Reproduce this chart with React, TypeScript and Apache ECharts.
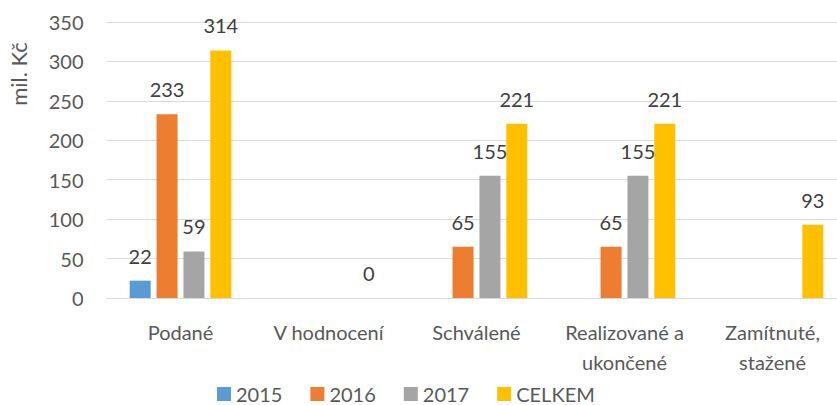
import React, { useEffect, useRef } from "react";
import * as echarts from "echarts";

const categories = ["Podané", "V hodnocení", "Schválené", "Realizované a\nukončené", "Zamítnuté,\nstažené"];
const seriesNames = ["2015", "2016", "2017", "CELKEM"];
const values2015: (number | null)[] = [22, null, null, null, null];
const values2016: (number | null)[] = [233, null, 65, 65, null];
const values2017: (number | null)[] = [59, null, 155, 155, null];
const valuesCelkem: (number | null)[] = [314, 0, 221, 221, 93];
const colors = ["#5B9BD5", "#ED7D31", "#A5A5A5", "#FFC000"];
const yTicks = { min: 0, max: 350, interval: 50 };
const yAxisTitle = "mil. Kč";

const FONT = "Lato";

export default function App() {
  const ref = useRef<HTMLDivElement>(null);
  useEffect(() => {
    if (!ref.current) return;
    const chart = echarts.init(ref.current, undefined, { renderer: "svg" });
    const allValues = [values2015, values2016, values2017, valuesCelkem];
    chart.setOption({
      animation: false,
      backgroundColor: "#ffffff",
      textStyle: { fontFamily: FONT },
      grid: { left: 106.5, right: -9.5, top: 22, bottom: 107, containLabel: false, outerBoundsMode: "none" },
      legend: {
        data: seriesNames,
        left: 217,
        top: 384,
        padding: 0,
        itemWidth: 14,
        itemHeight: 14,
        itemGap: 28,
        icon: "rect",
        textStyle: { fontFamily: FONT, fontSize: 20, color: "#595959", lineHeight: 20 },
      },
      xAxis: {
        type: "category",
        data: categories,
        axisLine: { show: true, lineStyle: { color: "#D9D9D9", width: 1 } },
        axisTick: { show: false },
        axisLabel: {
          interval: 0,
          fontFamily: FONT,
          fontSize: 20,
          color: "#595959",
          lineHeight: 30,
          margin: 19,
          align: "center",
        },
      },
      yAxis: {
        type: "value",
        min: yTicks.min,
        max: yTicks.max,
        interval: yTicks.interval,
        axisLine: { show: false },
        axisTick: { show: false },
        splitLine: { show: true, lineStyle: { color: "#D9D9D9", width: 1 } },
        axisLabel: { fontFamily: FONT, fontSize: 20, color: "#595959", margin: 23 },
      },
      graphic: [
        {
          type: "text",
          x: 18,
          y: 74,
          rotation: Math.PI / 2,
          style: {
            text: yAxisTitle,
            fontFamily: FONT,
            fontSize: 22,
            fill: "#595959",
            align: "center",
            verticalAlign: "middle",
          },
        },
      ],
      series: seriesNames.map((name, i) => ({
        name,
        type: "bar",
        data: allValues[i],
        barWidth: 21,
        barGap: "28%",
        itemStyle: { color: colors[i] },
        label: {
          show: true,
          position: "top",
          distance: 15,
          fontFamily: FONT,
          fontSize: 20,
          color: "#404040",
        },
      })),
    });
    return () => chart.dispose();
  }, []);
  return (
    <div
      ref={ref}
      style={{ position: "fixed", left: 0, top: 0, width: 837, height: 405, background: "#fff" }}
    />
  );
}
